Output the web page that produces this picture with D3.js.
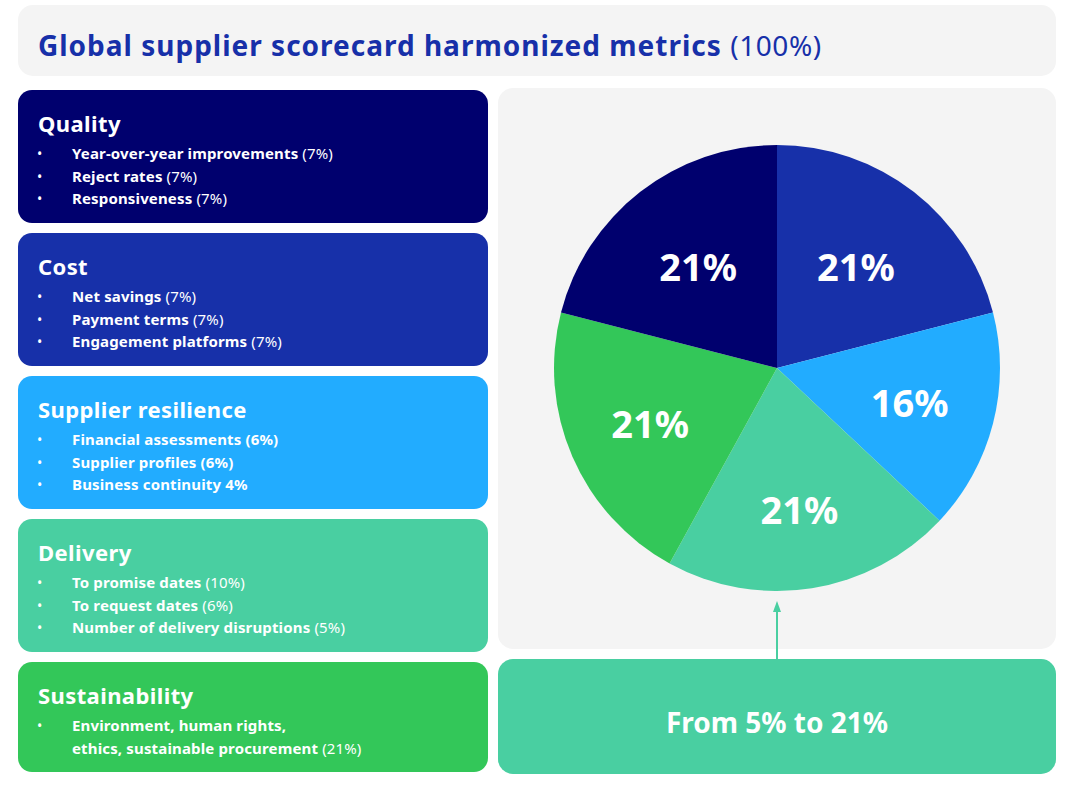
<!DOCTYPE html>
<html>
<head>
<meta charset="utf-8">
<script src="https://cdn.jsdelivr.net/npm/d3@7"></script>
<style>
  body { margin: 0; background: #fff; font-family: "Noto Sans", "Open Sans", sans-serif; }
</style>
</head>
<body>
<div id="chart"></div>
<script>
// chart data
const categories = ["Quality", "Cost", "Supplier resilience", "Delivery", "Sustainability"];
const shares = [21, 21, 16, 21, 21];
const colors = ["#00006e", "#1730a9", "#22acff", "#49cfa1", "#33c759"];
// slice order on the pie, clockwise from 12 o'clock
const pieOrder = ["Cost", "Supplier resilience", "Delivery", "Sustainability", "Quality"];
// bullet items per category: [text, pct, pctBold]
const items = [
    [["Year-over-year improvements", "(7%)", false], ["Reject rates", "(7%)", false], ["Responsiveness", "(7%)", false]],
    [["Net savings", "(7%)", false], ["Payment terms", "(7%)", false], ["Engagement platforms", "(7%)", false]],
    [["Financial assessments", "(6%)", true], ["Supplier profiles", "(6%)", true], ["Business continuity", "4%", true]],
    [["To promise dates", "(10%)", false], ["To request dates", "(6%)", false], ["Number of delivery disruptions", "(5%)", false]],
    [["Environment, human rights,|ethics, sustainable procurement", "(21%)", false]]
];
const title = "Global supplier scorecard harmonized metrics";
const titleTotal = "(100%)";
const rangeNote = "From 5% to 21%";

const width = 1090, height = 790;
const svg = d3.select("#chart").append("svg")
    .attr("width", width)
    .attr("height", height);

const colorScale = d3.scaleOrdinal().domain(categories).range(colors);

// title bar
svg.append("rect")
    .attr("x", 18).attr("y", 5).attr("width", 1038).attr("height", 71)
    .attr("rx", 15).attr("fill", "#f4f4f4");
const t = svg.append("text")
    .attr("x", 38).attr("y", 56)
    .attr("font-size", 28).attr("letter-spacing", 1)
    .attr("fill", "#1730a9");
t.append("tspan").attr("font-weight", 700).text(title + " ");
t.append("tspan").attr("font-weight", 400).attr("letter-spacing", 0.6).text(titleTotal);

// left category cards
let cardY = 90;
categories.forEach((c, i) => {
    const lines = items[i].reduce((n, d) => n + d[0].split("|").length, 0);
    const h = 64 + 23 * lines;
    const g = svg.append("g").attr("transform", `translate(18,${cardY})`);
    g.append("rect")
        .attr("width", 470).attr("height", h)
        .attr("rx", 14).attr("fill", colorScale(c));
    g.append("text")
        .attr("x", 20).attr("y", 42)
        .attr("font-size", 22).attr("font-weight", 700)
        .attr("letter-spacing", 0.4)
        .attr("fill", "#fff").text(c);

    let ly = 69;
    items[i].forEach(d => {
        const parts = d[0].split("|");
        g.append("text")
            .attr("x", 19).attr("y", ly)
            .attr("font-size", 14).attr("fill", "#fff").text("•");
        parts.forEach((p, k) => {
            const tx = g.append("text")
                .attr("x", 54).attr("y", ly)
                .attr("font-size", 15).attr("letter-spacing", 0.15)
                .attr("fill", "#fff");
            tx.append("tspan").attr("font-weight", 700).text(p);
            if (k === parts.length - 1) {
                tx.append("tspan").attr("font-weight", d[2] ? 700 : 400).text(" " + d[1]);
            }
            ly += 22.5;
        });
    });
    cardY += h + 10;
});

// right panel
svg.append("rect")
    .attr("x", 498).attr("y", 88).attr("width", 558).attr("height", 561)
    .attr("rx", 15).attr("fill", "#f4f4f4");

const cx = 777, cy = 368, R = 223;
const pieData = pieOrder.map(c => ({ name: c, value: shares[categories.indexOf(c)] }));
const pie = d3.pie().sort(null).value(d => d.value);
const arc = d3.arc().innerRadius(0).outerRadius(R);

// label sits a bit further out on the lower slices
function labelPos(d) {
    const a = (d.startAngle + d.endAngle) / 2;
    const r = 135 - 8 * Math.cos(a);
    return [r * Math.sin(a), -r * Math.cos(a)];
}

const pg = svg.append("g").attr("transform", `translate(${cx},${cy})`);
const slices = pg.selectAll("g.slice")
    .data(pie(pieData))
    .enter().append("g").attr("class", "slice");

slices.append("path")
    .attr("d", arc)
    .attr("fill", d => colorScale(d.data.name));

slices.append("text")
    .attr("transform", d => `translate(${labelPos(d)})`)
    .attr("text-anchor", "middle")
    .attr("dominant-baseline", "central")
    .attr("font-size", 38).attr("font-weight", 700)
    .attr("fill", "#fff")
    .text(d => d.data.value + "%");

// bottom note box with arrow
svg.append("rect")
    .attr("x", 498).attr("y", 659).attr("width", 558).attr("height", 115)
    .attr("rx", 15).attr("fill", colorScale("Delivery"));
svg.append("text")
    .attr("x", cx).attr("y", 722)
    .attr("text-anchor", "middle").attr("dominant-baseline", "central")
    .attr("font-size", 28).attr("font-weight", 700)
    .attr("fill", "#fff").text(rangeNote);

svg.append("line")
    .attr("x1", cx).attr("x2", cx)
    .attr("y1", 659).attr("y2", 610)
    .attr("stroke", colorScale("Delivery")).attr("stroke-width", 2);
svg.append("path")
    .attr("d", `M${cx},601 L${cx - 4},612 L${cx + 4},612 Z`)
    .attr("fill", colorScale("Delivery"));
</script>
</body>
</html>
